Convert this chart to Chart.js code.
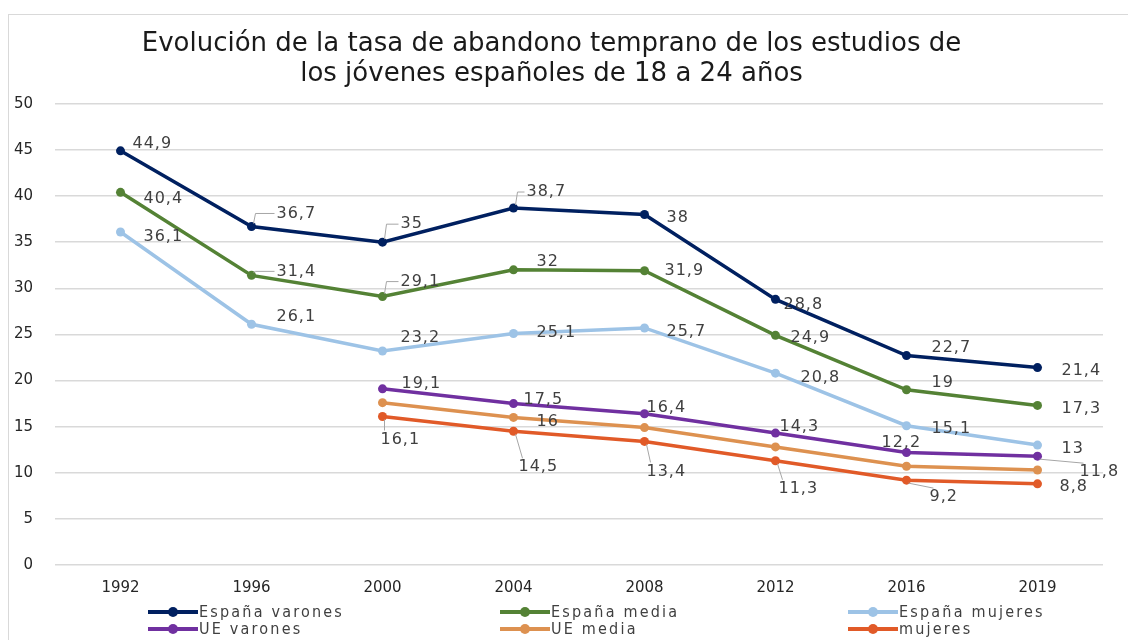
<!DOCTYPE html>
<html>
<head>
<meta charset="utf-8">
<script src="https://cdn.jsdelivr.net/npm/chart.js@4.4.1/dist/chart.umd.min.js"></script>
<style>
  html, body { margin: 0; padding: 0; background: #fff; }
  #wrap { position: relative; width: 1128px; height: 640px; overflow: hidden; }
  #frame { position: absolute; left: 8px; top: 14px; width: 1200px; height: 700px; border: 1px solid #d9d9d9; box-sizing: border-box; }
  canvas { position: absolute; left: 0; top: 0; }
  #legend { position: absolute; left: 0; top: 603px; width: 1128px; font-family: "DejaVu Sans Condensed", "Liberation Sans Narrow", sans-serif; font-size: 16px; color: #404040; letter-spacing: 2.2px; }
  .item { position: absolute; display: flex; align-items: center; height: 17px; white-space: nowrap; }
  .mark { position: relative; width: 50px; height: 17px; margin-right: 1px; }
  .mark .ln { position: absolute; left: 0; right: 0; top: 7px; height: 4px; }
  .mark .dt { position: absolute; left: 20px; top: 4px; width: 10px; height: 10px; border-radius: 50%; }
</style>
</head>
<body>
<div id="wrap">
  <div id="frame"></div>
  <canvas id="chart" width="1128" height="640"></canvas>
  <div id="legend"></div>
</div>
<script>
const years = ["1992", "1996", "2000", "2004", "2008", "2012", "2016", "2019"];
const espVarones = [44.9, 36.7, 35, 38.7, 38, 28.8, 22.7, 21.4];
const espMedia = [40.4, 31.4, 29.1, 32, 31.9, 24.9, 19, 17.3];
const espMujeres = [36.1, 26.1, 23.2, 25.1, 25.7, 20.8, 15.1, 13];
const ueVarones = [null, null, 19.1, 17.5, 16.4, 14.3, 12.2, 11.8];
const ueMedia = [null, null, 17.6, 16, 14.9, 12.8, 10.7, 10.3];
const ueMujeres = [null, null, 16.1, 14.5, 13.4, 11.3, 9.2, 8.8];

// which points carry a value label (UE media only shows one)
const ueMediaShown = [false, false, false, true, false, false, false, false];

// label offsets from the point: [dx, dy, leader line]
const offVarones = [[12,-7],[25,-13,1],[18,-18,1],[13,-16,1],[22,3],[8,5],[25,-8],[24,3]];
const offMedia = [[23,6],[25,-4,1],[18,-15,1],[23,-8],[20,0],[15,3],[25,-7],[24,3]];
const offMujeres = [[23,5],[25,-7],[18,-13],[23,-1],[22,4],[25,5],[25,3],[24,4]];
const offUeVarones = [null,null,[19,-5],[10,-4],[2,-6],[4,-6],[-25,-10],[42,16,1]];
const offUeMedia = [null,null,null,[23,4],null,null,null,null];
const offUeMujeres = [null,null,[-2,23,1],[5,36,1],[2,30,1],[3,28,1],[23,17,1],[22,3]];

function series(label, data, color, offs, shown) {
  return {
    label: label,
    data: data,
    borderColor: color,
    backgroundColor: color,
    borderWidth: 3.5,
    pointRadius: 4.5,
    pointBorderWidth: 0,
    pointHoverRadius: 4.5,
    tension: 0,
    spanGaps: false,
    offs: offs,
    shown: shown
  };
}

const valueLabels = {
  id: "valueLabels",
  afterDatasetsDraw(chart) {
    const ctx = chart.ctx;
    ctx.save();
    ctx.font = "16px 'DejaVu Sans', sans-serif";
    ctx.letterSpacing = "1px";
    ctx.fillStyle = "#404040";
    ctx.textBaseline = "middle";
    ctx.textAlign = "left";
    chart.data.datasets.forEach((ds, i) => {
      const meta = chart.getDatasetMeta(i);
      meta.data.forEach((pt, j) => {
        const v = ds.data[j];
        if (v === null || !ds.offs[j]) return;
        if (ds.shown && !ds.shown[j]) return;
        const o = ds.offs[j];
        const tx = pt.x + o[0];
        const ty = pt.y + o[1];
        if (o[2]) {
          ctx.strokeStyle = "#a6a6a6";
          ctx.lineWidth = 1;
          ctx.beginPath();
          ctx.moveTo(pt.x + 2, pt.y + (o[1] > 0 ? 3 : -3));
          if (o[1] > 0) {
            ctx.lineTo(tx + 4, ty - 9);
          } else {
            ctx.lineTo(pt.x + 4, ty);
            ctx.lineTo(tx - 2, ty);
          }
          ctx.stroke();
        }
        ctx.fillText(String(v).replace(".", ","), tx, ty);
      });
    });
    ctx.restore();
  }
};

const chart = new Chart(document.getElementById("chart"), {
  type: "line",
  data: {
    labels: years,
    datasets: [
      series("España varones", espVarones, "#002060", offVarones),
      series("España media", espMedia, "#548235", offMedia),
      series("España mujeres", espMujeres, "#9dc3e6", offMujeres),
      series("UE varones", ueVarones, "#7030a0", offUeVarones),
      series("UE media", ueMedia, "#dd9150", offUeMedia, ueMediaShown),
      series("mujeres", ueMujeres, "#e15a28", offUeMujeres)
    ]
  },
  options: {
    responsive: false,
    animation: false,
    layout: { padding: { left: 0, right: 25, top: 0, bottom: 37 } },
    plugins: {
      legend: { display: false },
      tooltip: { enabled: false },
      title: {
        display: true,
        text: ["Evolución de la tasa de abandono temprano de los estudios de", "los jóvenes españoles de 18 a 24 años"],
        color: "#1a1a1a",
        font: { family: "'DejaVu Sans', sans-serif", size: 26, weight: "normal", lineHeight: 1.15 },
        padding: { top: 29, bottom: 15 }
      }
    },
    scales: {
      x: {
        offset: true,
        grid: { display: false },
        border: { display: false },
        ticks: { color: "#262626", font: { family: "'DejaVu Sans', sans-serif", size: 15 }, padding: 6 }
      },
      y: {
        min: 0,
        max: 50,
        afterFit(scale) { scale.width = 55; },
        ticks: { stepSize: 5, color: "#262626", font: { family: "'DejaVu Sans', sans-serif", size: 15 }, padding: 22 },
        grid: { color: "#d9d9d9", lineWidth: 1.5, drawTicks: false },
        border: { display: false }
      }
    }
  },
  plugins: [valueLabels]
});

// legend in three columns, two rows
const legend = document.getElementById("legend");
const colX = [148, 500, 848];
chart.data.datasets.forEach((ds, i) => {
  const item = document.createElement("div");
  item.className = "item";
  item.style.left = colX[i % 3] + "px";
  item.style.top = (Math.floor(i / 3) * 17) + "px";
  item.innerHTML = '<div class="mark"><div class="ln" style="background:' + ds.borderColor + '"></div><div class="dt" style="background:' + ds.borderColor + '"></div></div><span>' + ds.label + '</span>';
  legend.appendChild(item);
});
</script>
</body>
</html>
